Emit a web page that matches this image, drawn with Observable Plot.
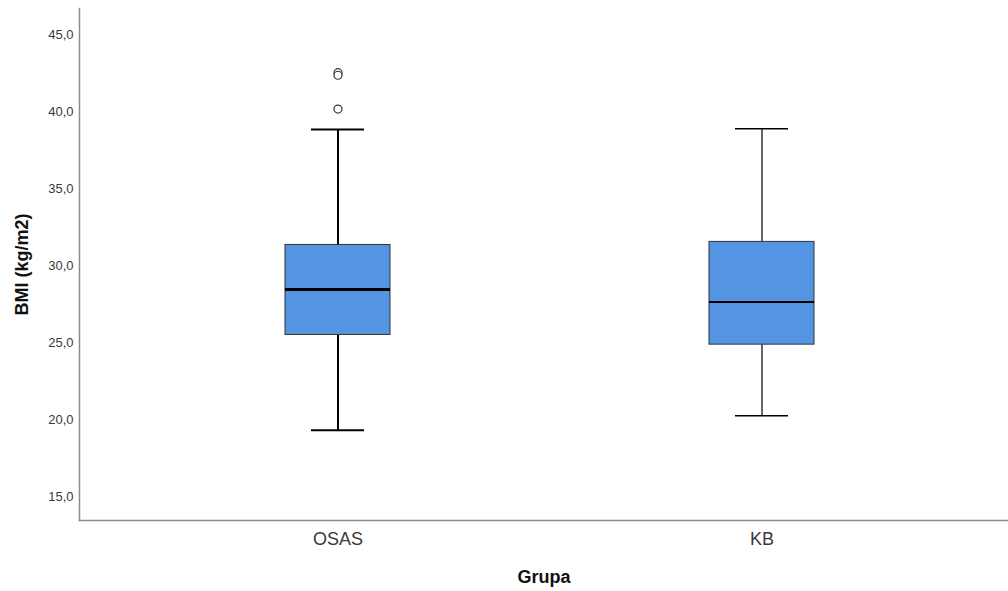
<!DOCTYPE html>
<html>
<head>
<meta charset="utf-8">
<script src="https://cdn.jsdelivr.net/npm/d3@7"></script>
<script src="https://cdn.jsdelivr.net/npm/@observablehq/plot@0.6"></script>
<style>
  html, body { margin: 0; padding: 0; background: #fff; }
  svg { display: block; }
</style>
</head>
<body>
<div id="chart"></div>
<script>
const groups = ["OSAS", "KB"];
const whiskerLow = [19.3, 20.25];
const q1 = [25.5, 24.87];
const median = [28.45, 27.65];
const q3 = [31.35, 31.55];
const whiskerHigh = [38.85, 38.9];
const outlierGroup = ["OSAS", "OSAS", "OSAS"];
const outlierValue = [42.55, 42.38, 40.18];
const yTicks = [15, 20, 25, 30, 35, 40, 45];

const boxes = groups.map((g, i) => ({
  group: g, lo: whiskerLow[i], q1: q1[i], med: median[i], q3: q3[i], hi: whiskerHigh[i]
}));
const outliers = outlierGroup.map((g, i) => ({group: g, value: outlierValue[i]}));
const yDomain = [13.44, 46.72];
const thick = g => g === "OSAS";

const chart = Plot.plot({
  width: 1008,
  height: 591,
  marginLeft: 79,
  marginRight: 0,
  marginTop: 8,
  marginBottom: 71,
  style: {fontFamily: "Liberation Sans, Arial, sans-serif", background: "#fff"},
  x: {domain: groups, type: "band", paddingInner: 0.7524, paddingOuter: 0.471, align: 0.516, label: null},
  y: {domain: yDomain, label: null},
  marks: [
    Plot.frame({anchor: "left", stroke: "#8c8c8c", strokeWidth: 1.5}),
    Plot.frame({anchor: "bottom", stroke: "#8c8c8c", strokeWidth: 1.5}),
    Plot.axisY(yTicks, {tickSize: 0, tickPadding: 6, fontSize: 13, fill: "#3a3a3a",
      tickFormat: d => d.toFixed(1).replace(".", ","), label: null}),
    Plot.axisX({tickSize: 0, tickPadding: 12, fontSize: 18, fill: "#3a3a3a", label: null}),
    Plot.ruleX(boxes, {x: "group", y1: "lo", y2: "q1", stroke: "#000", strokeWidth: d => thick(d.group) ? 2 : 1.2}),
    Plot.ruleX(boxes, {x: "group", y1: "q3", y2: "hi", stroke: "#000", strokeWidth: d => thick(d.group) ? 2 : 1.2}),
    Plot.tickY(boxes, {x: "group", y: "lo", inset: 26, stroke: "#000", strokeWidth: d => thick(d.group) ? 2 : 1.5}),
    Plot.tickY(boxes, {x: "group", y: "hi", inset: 26, stroke: "#000", strokeWidth: d => thick(d.group) ? 2 : 1.5}),
    Plot.barY(boxes, {x: "group", y1: "q1", y2: "q3", fill: "#5394e3", stroke: "#333", strokeWidth: 1}),
    Plot.tickY(boxes, {x: "group", y: "med", stroke: "#000", strokeWidth: d => thick(d.group) ? 3 : 2}),
    Plot.dot(outliers, {x: "group", y: "value", r: 4, stroke: "#333", fill: "#fff", strokeWidth: 1.2}),
    Plot.text(["BMI (kg/m2)"], {frameAnchor: "left", textAnchor: "middle", dx: -57, rotate: -90, fontSize: 18, fontWeight: "bold", fill: "#111"}),
    Plot.text(["Grupa"], {frameAnchor: "bottom", dy: 62, fontSize: 18, fontWeight: "bold", fill: "#111"})
  ]
});
document.getElementById("chart").appendChild(chart);
</script>
</body>
</html>
